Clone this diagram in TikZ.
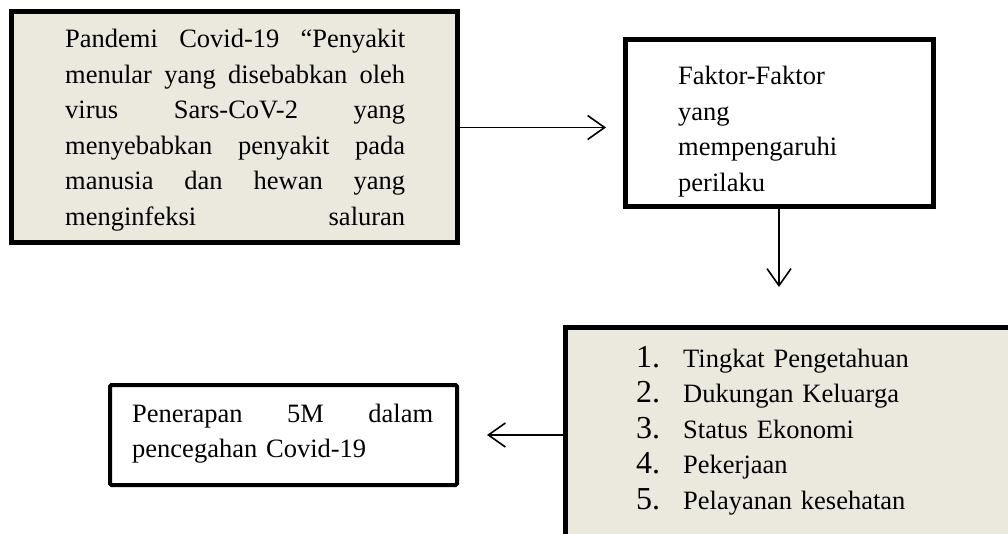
\documentclass[tikz,border=0pt]{standalone}
\usepackage{fontspec}
\setmainfont{Liberation Serif}
\usetikzlibrary{arrows.meta}
\definecolor{krem}{RGB}{235,232,222}
\newcommand {\baris}[2] {\leavevmode\hbox to #1{#2}}
\newcommand {\angka}[1] {\makebox[47pt][l]{\fontsize{32}{35.5}\selectfont #1}}
\tikzset{kotak/.style={draw, line width=5pt, inner sep=0pt, outer sep=0pt, anchor=north west},
         teks/.style={anchor=base west, inner sep=0pt, align=left, font=\fontsize{26.5}{35.5}\selectfont},
         panah/.style={line width=1.6pt, -{Straight Barb[length=17pt,width=24pt]}}}

\begin{document}
\begin{tikzpicture}[x=1pt, y=-1pt]
        \useasboundingbox (0,0) rectangle (1008,534);
        % kotak
        \node[kotak, fill=krem, minimum width=446pt, minimum height=231pt] (pandemi) at (11,12) {};
        \node[kotak, minimum width=308pt, minimum height=167pt] (faktor) at (625,40) {};
        \node[kotak, fill=krem, minimum width=460pt, minimum height=220pt] (daftar) at (565,327) {};
        \node[kotak, line width=4pt, rounded corners=1.5pt, minimum width=347pt, minimum height=100pt] (penerapan) at (110,385) {};
        % isi kotak
        \node[teks, text width=340pt] (tekspandemi) at (65,48) {\baris{340pt}{Pandemi\hfill Covid-19\hfill “Penyakit}\\
            \baris{340pt}{menular\hfill yang\hfill disebabkan\hfill oleh}\\
            \baris{340pt}{virus\hfill Sars-CoV-2\hfill yang}\\
            \baris{340pt}{menyebabkan\hfill penyakit\hfill pada}\\
            \baris{340pt}{manusia\hfill dan\hfill hewan\hfill yang}\\
            \baris{340pt}{menginfeksi\hfill saluran}};
        \node[teks, text width=240pt] (teksfaktor) at (678,85) {Faktor-Faktor\\ yang\\ mempengaruhi\\ perilaku};
        \node[teks, text width=340pt] (teksdaftar) at (636,367) {\angka{1.}Tingkat Pengetahuan\\
            \angka{2.}Dukungan Keluarga\\
            \angka{3.}Status Ekonomi\\
            \angka{4.}Pekerjaan\\
            \angka{5.}Pelayanan kesehatan};
        \node[teks, text width=301pt] (tekspenerapan) at (132,422) {\baris{301pt}{Penerapan\hfill 5M\hfill dalam}\\ pencegahan Covid-19};
        % panah
        \draw[panah, shorten >=19pt] (pandemi.east) -- (pandemi.east -| faktor.west);
        \draw[panah, shorten >=40pt] (faktor.south) -- (faktor.south |- daftar.north);
        \draw[panah, shorten >=30pt] (daftar.west |- penerapan.east) -- (penerapan.east);
    \end{tikzpicture}
\end{document}
